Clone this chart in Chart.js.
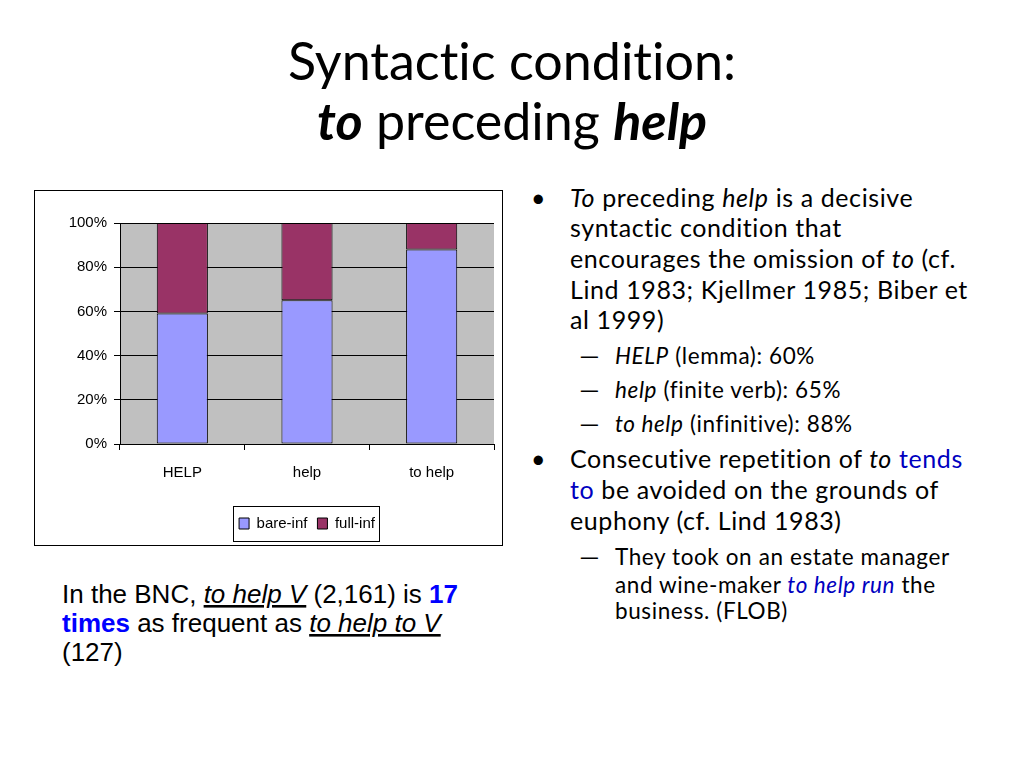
<!DOCTYPE html>
<html>
<head>
<meta charset="utf-8">
<title>Syntactic condition: to preceding help</title>
<script src="https://cdn.jsdelivr.net/npm/chart.js@4.4.1/dist/chart.umd.min.js"></script>
<style>
  html, body { margin: 0; padding: 0; background: #fff; }
  body { width: 1024px; height: 768px; position: relative; overflow: hidden; }
  #slide { position: absolute; left: 0; top: 0; }
  #chartBox {
    position: absolute; left: 34px; top: 190px;
    width: 469px; height: 356px; box-sizing: border-box;
    border: 1px solid #000; background: #fff;
  }
  #chartBox canvas { display: block; }
  .cal { font-family: Lato, "Noto Sans", sans-serif; font-variant-ligatures: none; }
  .ari { font-family: "Liberation Sans", Arial, sans-serif; }
  .body { font-size: 25px; letter-spacing: 0.6px; }
  .sub  { font-size: 22.5px; letter-spacing: 0.6px; }
</style>
</head>
<body>

<svg id="slide" width="1024" height="768" xmlns="http://www.w3.org/2000/svg">
  <!-- title -->
  <g class="cal" font-size="52" text-anchor="middle" fill="#000">
    <text x="512" y="80">Syntactic condition:</text>
    <text x="512" y="140"><tspan font-weight="bold" font-style="italic">to</tspan> preceding <tspan font-weight="bold" font-style="italic">help</tspan></text>
  </g>

  <!-- right column -->
  <g class="cal" fill="#000">
    <g class="body">
      <text x="531" y="206.7">•</text>
      <text x="570" y="206.7"><tspan font-style="italic">To</tspan> preceding <tspan font-style="italic">help</tspan> is a decisive</text>
      <text x="570" y="237.3">syntactic condition that</text>
      <text x="570" y="268.3">encourages the omission of <tspan font-style="italic">to</tspan> (cf.</text>
      <text x="570" y="299">Lind 1983; Kjellmer 1985; Biber et</text>
      <text x="570" y="329">al 1999)</text>
    </g>
    <g class="sub">
      <text transform="translate(577,364.3) scale(1.9,1)">–</text>
      <text x="615" y="364.3"><tspan font-style="italic">HELP</tspan> (lemma): 60%</text>
      <text transform="translate(577,398.3) scale(1.9,1)">–</text>
      <text x="615" y="398.3"><tspan font-style="italic">help</tspan> (finite verb): 65%</text>
      <text transform="translate(577,431.7) scale(1.9,1)">–</text>
      <text x="615" y="431.7"><tspan font-style="italic">to help</tspan> (infinitive): 88%</text>
    </g>
    <g class="body">
      <text x="531" y="468.3">•</text>
      <text x="570" y="468.3">Consecutive repetition of <tspan font-style="italic">to</tspan> <tspan fill="#0000c0">tends</tspan></text>
      <text x="570" y="499.3"><tspan fill="#0000c0">to</tspan> be avoided on the grounds of</text>
      <text x="570" y="530">euphony (cf. Lind 1983)</text>
    </g>
    <g class="sub">
      <text transform="translate(577,565) scale(1.9,1)">–</text>
      <text x="615" y="565">They took on an estate manager</text>
      <text x="615" y="592.7">and wine-maker <tspan fill="#0000c0" font-style="italic">to help run</tspan> the</text>
      <text x="615" y="619.3">business. (FLOB)</text>
    </g>
  </g>

  <!-- note under the chart -->
  <g class="ari" font-size="26" fill="#000">
    <text x="62" y="603">In the BNC, <tspan font-style="italic" text-decoration="underline">to help V</tspan> (2,161) is <tspan font-weight="bold" fill="#0000ff">17</tspan></text>
    <text x="62" y="632"><tspan font-weight="bold" fill="#0000ff">times</tspan> as frequent as <tspan font-style="italic" text-decoration="underline">to help to V</tspan></text>
    <text x="62" y="661">(127)</text>
  </g>
</svg>

<div id="chartBox"><canvas id="chart" width="467" height="354"></canvas></div>

<script>
// ---- data ----
const categories = ["HELP", "help", "to help"];
const bareInf = [59, 65, 88];   // % bare infinitive
const fullInf = [41, 35, 12];   // % to-infinitive
const yTicks  = [0, 20, 40, 60, 80, 100];

const seriesNames  = ["bare-inf", "full-inf"];
const seriesColors = ["#9999ff", "#993366"];

const chartFont = { family: "'Liberation Sans', Arial, sans-serif", size: 15 };

// grey plot area + framed legend, like the old Excel default
const excelLook = {
  id: "excelLook",
  beforeDraw(chart) {
    const { ctx, chartArea: a } = chart;
    ctx.save();
    ctx.fillStyle = "#c0c0c0";
    ctx.fillRect(a.left, a.top, a.right - a.left, a.bottom - a.top);
    ctx.restore();
  },
  afterDraw(chart) {
    const boxes = chart.legend && chart.legend.legendHitBoxes;
    if (!boxes || !boxes.length) return;
    const l = Math.min(...boxes.map(b => b.left)) - 6;
    const r = Math.max(...boxes.map(b => b.left + b.width)) + 4;
    const cy = boxes[0].top + boxes[0].height / 2;
    const ctx = chart.ctx;
    ctx.save();
    ctx.strokeStyle = "#000";
    ctx.lineWidth = 1;
    ctx.strokeRect(Math.round(l) + 0.5, Math.round(cy - 18) + 0.5, Math.round(r - l), 35);
    ctx.restore();
  }
};

new Chart(document.getElementById("chart"), {
  type: "bar",
  data: {
    labels: categories,
    datasets: [
      { label: seriesNames[0], data: bareInf, backgroundColor: seriesColors[0] },
      { label: seriesNames[1], data: fullInf, backgroundColor: seriesColors[1] }
    ].map(ds => Object.assign(ds, {
      borderColor: "#000", borderWidth: 1, borderSkipped: false,
      barPercentage: 0.41, categoryPercentage: 1
    }))
  },
  options: {
    responsive: false,
    animation: false,
    devicePixelRatio: 1,
    layout: { padding: { top: 32, right: 8, bottom: 4, left: 0 } },
    plugins: {
      legend: {
        position: "bottom",
        fullSize: false,
        labels: { color: "#000", font: chartFont, boxWidth: 10, boxHeight: 11, padding: 10 }
      },
      tooltip: { enabled: false }
    },
    scales: {
      x: {
        stacked: true,
        grid: { display: true, drawOnChartArea: false, drawTicks: true, tickLength: 6, offset: true, color: "#000" },
        border: { color: "#000" },
        ticks: { color: "#000", font: chartFont, padding: 14 },
        afterFit(scale) { scale.height = 62; }
      },
      y: {
        stacked: true,
        min: 0, max: 100,
        afterBuildTicks(scale) { scale.ticks = yTicks.map(v => ({ value: v })); },
        grid: { color: "#000", tickLength: 6 },
        border: { color: "#000" },
        ticks: { color: "#000", font: chartFont, padding: 7, callback: v => v + "%" },
        afterFit(scale) { scale.width = 85; }
      }
    }
  },
  plugins: [excelLook]
});
</script>
</body>
</html>
